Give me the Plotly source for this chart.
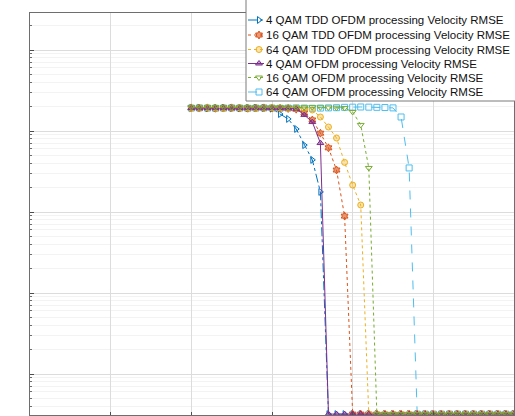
import plotly.graph_objects as go

W, H = 515, 416

# SNR axis (dB), one sample per dB
snr_db = list(range(0, 41))

FLOOR = 0.0032  # residual error floor once velocity estimation locks

# Velocity RMSE per scheme (m/s)
rmse_4qam_tdd = [19.2, 19.3, 19.1, 19.2, 19.3, 19.2, 19.1, 19.2, 19.3, 19.2,
                 18.9, 16.2, 14.1, 10.6, 6.7, 4.4, 1.77] + [FLOOR] * 24
rmse_16qam_tdd = [19.3, 19.2, 19.3, 19.1, 19.2, 19.3, 19.2, 19.1, 19.2, 19.3,
                  19.2, 19.1, 19.0, 18.6, 16.7, 13.7, 9.4, 6.2, 3.3, 0.89] + [FLOOR] * 21
rmse_64qam_tdd = [19.1, 19.2, 19.3, 19.2, 19.1, 19.2, 19.3, 19.2, 19.1, 19.2,
                  19.3, 19.2, 19.1, 19.2, 19.0, 18.2, 14.9, 11.2, 8.2, 4.1,
                  2.15, 1.22] + [FLOOR] * 19
rmse_4qam_ofdm = [19.2, 19.1, 19.2, 19.3, 19.2, 19.1, 19.2, 19.3, 19.2, 19.1,
                  19.2, 19.2, 19.1, 18.8, 15.8, 12.9, 7.1] + [FLOOR] * 24
rmse_16qam_ofdm = [19.6, 19.5, 19.6, 19.7, 19.6, 19.5, 19.6, 19.7, 19.6, 19.5,
                   19.6, 19.7, 19.6, 19.5, 19.6, 19.7, 19.6, 19.5, 19.4, 19.2,
                   17.2, 11.9, 3.5] + [FLOOR] * 18
rmse_64qam_ofdm = [19.2, 19.3, 19.2, 19.1, 19.2, 19.3, 19.2, 19.1, 19.2, 19.3,
                   19.2, 19.1, 19.2, 19.3, 19.2, 19.1, 19.2, 19.3, 19.4, 19.6,
                   19.7, 19.8, 19.7, 19.6, 19.5, 19.3, 14.9, 3.5] + [FLOOR] * 13

series_names = [
    "4 QAM TDD OFDM processing Velocity RMSE",
    "16 QAM TDD OFDM processing Velocity RMSE",
    "64 QAM TDD OFDM processing Velocity RMSE",
    "4 QAM OFDM processing Velocity RMSE",
    "16 QAM OFDM processing Velocity RMSE",
    "64 QAM OFDM processing Velocity RMSE",
]
series_values = [rmse_4qam_tdd, rmse_16qam_tdd, rmse_64qam_tdd,
                 rmse_4qam_ofdm, rmse_16qam_ofdm, rmse_64qam_ofdm]

# Open symbols take their stroke from marker.color; filled ones use a tinted fill
styles = [
    dict(color="#0072BD", dash="dashdot", symbol="triangle-right-open", fill="#0072BD"),
    dict(color="#D95319", dash="dot", symbol="hexagram", fill="rgba(217,83,25,0.6)"),
    dict(color="#EDB120", dash="dot", symbol="circle", fill="rgba(237,177,32,0.35)"),
    dict(color="#7E2F8E", dash="solid", symbol="triangle-up", fill="rgba(126,47,142,0.45)"),
    dict(color="#77AC30", dash="dot", symbol="triangle-down-open", fill="#77AC30"),
    dict(color="#4DBEEE", dash="dash", symbol="square-open", fill="#4DBEEE"),
]

# Stacking order of the curves (first drawn sits at the bottom)
draw_order = [5, 0, 1, 2, 3, 4]


def marker_style(st):
    return dict(symbol=st["symbol"], size=6, color=st["fill"],
                line=dict(color=st["color"], width=1))


fig = go.Figure()
for i in draw_order:
    st = styles[i]
    fig.add_trace(go.Scatter(
        x=snr_db, y=series_values[i], name=series_names[i], mode="lines+markers",
        showlegend=False, line=dict(color=st["color"], width=1, dash=st["dash"]),
        marker=marker_style(st), xaxis="x", yaxis="y",
    ))

# Legend panel drawn on a pixel-unit overlay (x2/y2) so rows can be tight
LEG_LEFT, LEG_RIGHT, LEG_TOP, LEG_BOTTOM = 246, 522, -4, 101
legend_rows = [20, 35, 49.5, 63.5, 77.5, 92]
fig.add_trace(go.Scatter(
    x=[LEG_LEFT, LEG_RIGHT, LEG_RIGHT, LEG_LEFT, LEG_LEFT],
    y=[LEG_TOP, LEG_TOP, LEG_BOTTOM, LEG_BOTTOM, LEG_TOP],
    mode="lines", fill="toself", fillcolor="white",
    line=dict(color="#7a7a7a", width=1), hoverinfo="skip", showlegend=False,
    xaxis="x2", yaxis="y2",
))
for name, row, st in zip(series_names, legend_rows, styles):
    fig.add_trace(go.Scatter(
        x=[248, 264], y=[row, row], mode="lines",
        line=dict(color=st["color"], width=1, dash=st["dash"]),
        hoverinfo="skip", showlegend=False, xaxis="x2", yaxis="y2",
    ))
    fig.add_trace(go.Scatter(
        x=[259], y=[row], mode="markers", marker=marker_style(st),
        hoverinfo="skip", showlegend=False, xaxis="x2", yaxis="y2",
    ))
    fig.add_annotation(
        x=264, y=row, xref="x2", yref="y2", text=name, showarrow=False,
        xanchor="left", yanchor="middle",
        font=dict(family="Liberation Sans, Arial, sans-serif", size=11.5, color="#111111"),
    )

axis_common = dict(
    showline=True, mirror=True, linecolor="#6e6e6e", linewidth=1,
    ticks="inside", tickcolor="#4d4d4d", showticklabels=False,
    gridcolor="#dcdcdc", gridwidth=1, zeroline=False,
)

fig.update_layout(
    width=W, height=H,
    margin=dict(l=0, r=0, t=0, b=0),
    paper_bgcolor="white", plot_bgcolor="rgba(0,0,0,0)",
    font=dict(family="Liberation Sans, Arial, sans-serif", size=11, color="#000000"),
    showlegend=False,
    xaxis=dict(domain=[30 / W, 514 / W], range=[-20, 40], dtick=10, ticklen=3,
               anchor="y", **axis_common),
    yaxis=dict(domain=[1 - 415 / H, 1 - 13 / H], type="log", range=[-2.506, 2.457],
               dtick=1, ticklen=4, anchor="x",
               minor=dict(ticks="inside", ticklen=2, tickcolor="#6e6e6e",
                          showgrid=True, gridcolor="#f3f3f3"),
               **axis_common),
    xaxis2=dict(domain=[0, 1], range=[0, W], visible=False, anchor="y2", fixedrange=True),
    yaxis2=dict(domain=[0, 1], range=[H, 0], visible=False, anchor="x2", fixedrange=True),
)

fig.write_html("out.html")
